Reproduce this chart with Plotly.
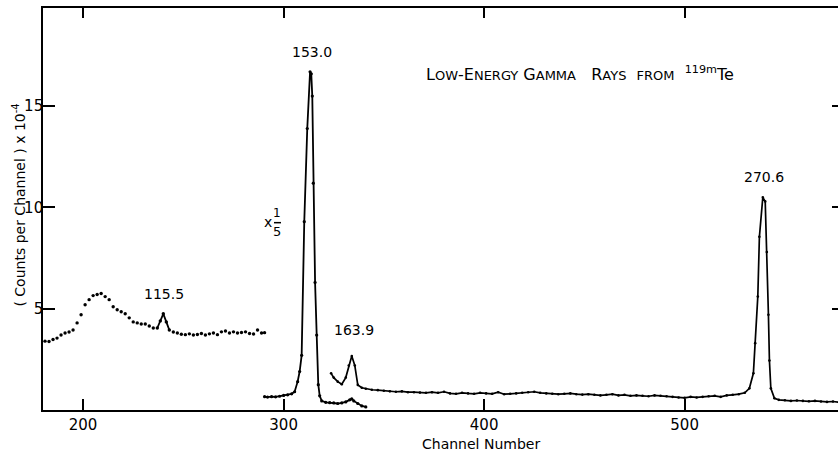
import plotly.graph_objects as go

# ---- Data ----
# Left segment (dotted, full scale)
ch_a = [181, 183, 185, 187, 189, 191, 193, 195, 197, 199, 201, 203, 205, 207, 209, 211, 213, 215,
        217, 219, 221, 223, 225, 227, 229, 231, 233, 235, 237, 238.5, 240, 241.5, 243, 245, 247,
        249, 251, 253, 255, 257, 259, 261, 263, 265, 267, 269, 271, 273, 275, 277, 279, 281, 283,
        285, 287, 289, 290.5]
cnt_a = [3.40, 3.38, 3.48, 3.55, 3.70, 3.80, 3.85, 3.95, 4.30, 4.70, 5.20, 5.45, 5.65, 5.70, 5.75,
         5.60, 5.45, 5.10, 4.95, 4.85, 4.75, 4.55, 4.35, 4.30, 4.25, 4.25, 4.15, 4.05, 4.05, 4.40,
         4.75, 4.35, 3.95, 3.85, 3.80, 3.74, 3.72, 3.76, 3.70, 3.73, 3.78, 3.70, 3.76, 3.80, 3.72,
         3.86, 3.90, 3.80, 3.86, 3.80, 3.83, 3.86, 3.78, 3.75, 3.95, 3.80, 3.82]

# Scaled segment (x 1/5) around the 153.0 keV peak
ch_b = [290.5, 292, 294, 296, 298, 300, 302, 304, 305.5, 307, 308, 309, 310.3, 311.8, 313.2,
        313.8, 314.3, 314.8, 315.7, 316.5, 317.3, 318, 319, 321, 323, 325, 327, 329, 331, 333,
        334, 335, 337, 339, 341]
cnt_b = [0.66, 0.64, 0.66, 0.65, 0.68, 0.72, 0.75, 0.80, 0.90, 1.40, 1.90, 2.70, 9.30, 13.9, 16.7,
         16.6, 15.5, 11.2, 6.3, 3.7, 1.25, 0.70, 0.45, 0.38, 0.36, 0.35, 0.32, 0.35, 0.40, 0.50,
         0.55, 0.45, 0.32, 0.20, 0.15]

# Full-scale segment from 323 to the end (163.9 and 270.6 keV peaks)
ch_c = [323.7, 325, 327, 329, 331, 332.5, 334, 335.5, 337, 339, 341, 344, 347, 350, 353, 356, 359,
        362, 365, 368, 371, 374, 377, 380, 383, 386, 389, 392, 395, 398, 401, 404, 407, 410, 413,
        416, 419, 422, 425, 428, 431, 434, 437, 440, 443, 446, 449, 452, 455, 458, 461, 464, 467,
        470, 473, 476, 479, 482, 485, 488, 491, 494, 497, 500, 503, 506, 509, 512, 515, 518, 521,
        524, 527, 530, 532.3, 534.3, 535.2, 536.5, 537.3, 539, 540.2, 541, 541.8, 542.3, 543,
        544.8, 547, 550, 553, 556, 559, 562, 565, 568, 571, 574, 577]
cnt_c = [1.81, 1.60, 1.40, 1.27, 1.60, 2.20, 2.67, 2.20, 1.24, 1.10, 1.05, 1.00, 0.98, 0.95, 0.92,
         0.90, 0.92, 0.88, 0.88, 0.86, 0.85, 0.88, 0.85, 0.90, 0.82, 0.80, 0.85, 0.82, 0.80, 0.85,
         0.82, 0.80, 0.88, 0.78, 0.80, 0.82, 0.85, 0.88, 0.90, 0.85, 0.82, 0.80, 0.78, 0.80, 0.82,
         0.78, 0.76, 0.78, 0.75, 0.72, 0.75, 0.78, 0.72, 0.75, 0.70, 0.72, 0.70, 0.68, 0.72, 0.70,
         0.68, 0.65, 0.62, 0.60, 0.65, 0.62, 0.65, 0.68, 0.70, 0.65, 0.72, 0.75, 0.78, 0.85, 1.07,
         1.81, 3.30, 5.60, 8.55, 10.5, 10.3, 7.80, 4.70, 2.44, 1.07, 0.58, 0.50, 0.48, 0.45, 0.47,
         0.45, 0.43, 0.45, 0.42, 0.40, 0.42, 0.38]

x_ticks = [200, 300, 400, 500]
y_ticks = [5, 10, 15]
y_tick_text = ["5", "10", "15"]

peak_labels = ["115.5", "153.0", "163.9", "270.6"]
peak_x = [240.3, 314.2, 335.1, 539.4]
peak_y = [5.73, 17.68, 3.95, 11.53]

X_RANGE = [180, 576.5]
Y_RANGE = [0, 19.85]
FONT = "DejaVu Sans"
INK = "black"

fig = go.Figure()

# left dotted segment
fig.add_trace(go.Scatter(x=ch_a, y=cnt_a, mode="markers",
                         marker=dict(color=INK, size=3.4), showlegend=False))
# solid small peak inside left segment
i0, i1 = ch_a.index(237), ch_a.index(243) + 1
fig.add_trace(go.Scatter(x=ch_a[i0:i1], y=cnt_a[i0:i1], mode="lines",
                         line=dict(color=INK, width=1.8), showlegend=False))
# scaled peak
fig.add_trace(go.Scatter(x=ch_b, y=cnt_b, mode="lines+markers",
                         line=dict(color=INK, width=1.8), marker=dict(color=INK, size=3.2),
                         showlegend=False))
# full-scale segment
fig.add_trace(go.Scatter(x=ch_c, y=cnt_c, mode="lines+markers",
                         line=dict(color=INK, width=1.7), marker=dict(color=INK, size=2.6),
                         showlegend=False))
# invisible trace to hold the top and right-hand axes
fig.add_trace(go.Scatter(x=ch_c, y=cnt_c, xaxis="x2", yaxis="y2", mode="lines",
                         line=dict(width=0), opacity=0, showlegend=False, hoverinfo="skip"))

axis_common = dict(showgrid=False, zeroline=False, linecolor=INK, linewidth=1.6,
                   ticks="inside", tickcolor=INK, tickwidth=1.6)

fig.update_layout(
    width=838, height=460,
    margin=dict(l=43, r=0, t=8, b=50),
    paper_bgcolor="white", plot_bgcolor="white",
    font=dict(family=FONT, color=INK),
    xaxis=dict(range=X_RANGE, tickvals=x_ticks, ticklen=11, showline=True,
               tickfont=dict(size=15, family=FONT), ticklabelstandoff=0, **axis_common),
    yaxis=dict(range=Y_RANGE, tickvals=y_ticks, ticktext=y_tick_text, ticklen=12, showline=True,
               tickfont=dict(size=15, family=FONT), ticklabelstandoff=-5, **axis_common),
    xaxis2=dict(range=X_RANGE, tickvals=x_ticks, ticklen=10, overlaying="x", side="top",
                anchor="y", showline=True, showticklabels=False, **axis_common),
    yaxis2=dict(range=Y_RANGE, tickvals=y_ticks, ticklen=6, overlaying="y", side="right",
                anchor="x", showline=True, showticklabels=False, **axis_common),
)

for txt, px, py in zip(peak_labels, peak_x, peak_y):
    fig.add_annotation(x=px, y=py, text=txt, showarrow=False,
                       font=dict(size=14, family=FONT, color=INK))

# "x 1/5" scale marker
fig.add_annotation(x=292.0, y=9.26, text="x", showarrow=False,
                   font=dict(size=14, family=FONT, color=INK))
fig.add_annotation(x=296.9, y=9.72, text="1", showarrow=False,
                   font=dict(size=12, family=FONT, color=INK))
fig.add_annotation(x=296.9, y=8.80, text="5", showarrow=False,
                   font=dict(size=13, family=FONT, color=INK))
fig.add_shape(type="line", x0=295.2, x1=298.7, y0=9.25, y1=9.25,
              line=dict(color=INK, width=1.5))

# title in small caps style
s = "<span style='font-size:13px'>"
title = ("L" + s + "OW</span>-E" + s + "NERGY</span> G" + s + "AMMA</span>&nbsp;&nbsp; R" + s +
         "AYS</span>&nbsp; " + s + "FROM</span>&nbsp; <sup>119m</sup>Te")
fig.add_annotation(x=447.8, y=16.64, text=title, showarrow=False,
                   font=dict(size=16, family=FONT, color=INK))

# axis titles
fig.add_annotation(xref="paper", yref="paper", x=-0.0302, y=0.511, xanchor="center",
                   yanchor="middle",
                   text="( Counts per Channel ) x 10<sup>-4</sup>", textangle=-90,
                   showarrow=False, font=dict(size=14, family=FONT, color=INK))
fig.add_annotation(xref="paper", yref="paper", x=0.551, y=-0.085, xanchor="center",
                   yanchor="middle", text="Channel Number",
                   showarrow=False, font=dict(size=14, family=FONT, color=INK))

fig.write_html("out.html", post_script="document.body.style.margin='0px';",
               config={"displayModeBar": False})
